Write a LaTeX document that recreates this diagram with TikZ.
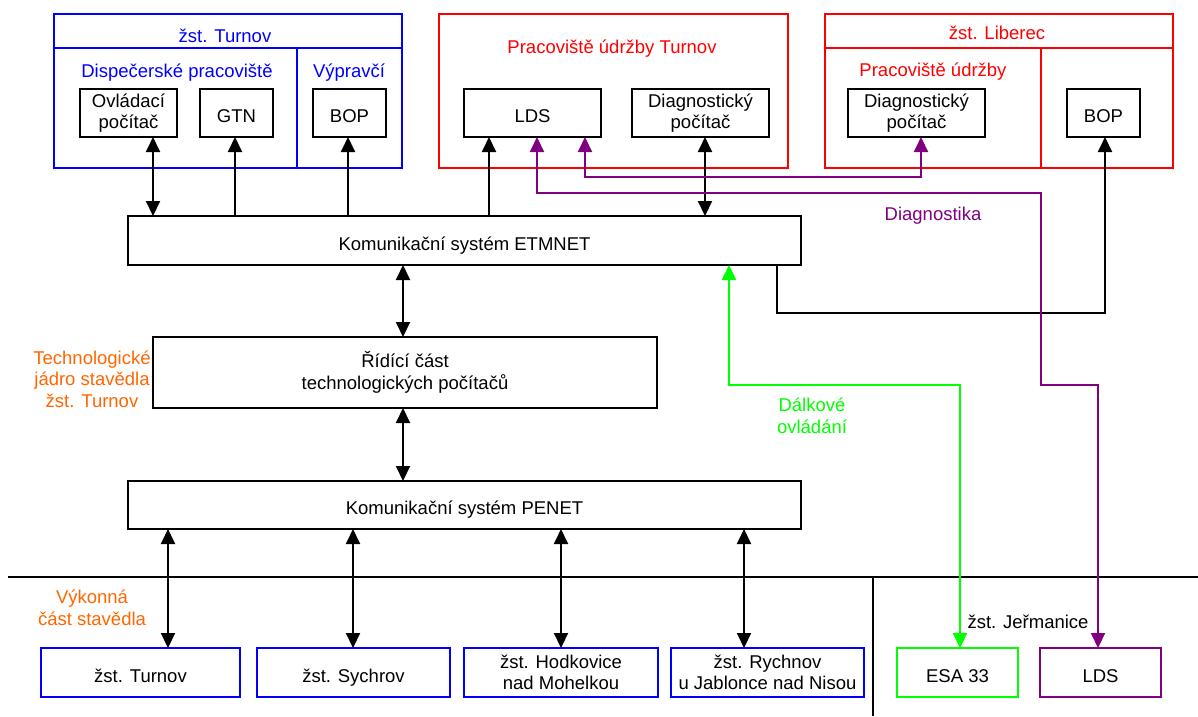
\documentclass[tikz,border=0pt]{standalone}
\usepackage{fontspec}
\setmainfont{Liberation Sans}
\usetikzlibrary{arrows.meta}
\definecolor{cblue}{RGB}{0,0,255}
\definecolor{cred}{RGB}{255,0,0}
\definecolor{cpurple}{RGB}{128,0,128}
\definecolor{cgreen}{RGB}{0,255,0}
\definecolor{corange}{RGB}{255,102,0}

\begin{document}
\begin{tikzpicture}[x=1pt,y=-1pt,
  font=\fontsize{18.5}{21.5}\selectfont,
  box/.style={draw=black, line width=2pt, inner sep=0pt, outer sep=0pt, align=center},
  one/.style={text height=19pt, text depth=0pt},
  frame/.style={draw, line width=2pt, inner sep=0pt, outer sep=0pt},
  sep/.style={line width=2pt},
  title/.style={anchor=base, inner sep=0pt, align=center},
  link/.style={line width=2pt, -{Triangle[width=14pt,length=15pt]}},
  dlink/.style={line width=2pt, {Triangle[width=14pt,length=15pt]}-{Triangle[width=14pt,length=15pt]}}
]
\useasboundingbox (0,0) rectangle (1198,716);

% ---------- upper frames ----------
\node[frame, draw=cblue, minimum width=348pt, minimum height=154pt] (fTur) at (228,91) {};
\draw[sep, cblue] ([yshift=-34pt]fTur.north west) -- ([yshift=-34pt]fTur.north east);
\draw[sep, cblue] ([xshift=243pt,yshift=-34pt]fTur.north west) -- ([xshift=243pt]fTur.south west);

\node[frame, draw=cred, minimum width=349pt, minimum height=154pt] (fUdr) at (613.5,91) {};

\node[frame, draw=cred, minimum width=348pt, minimum height=154pt] (fLib) at (999,91) {};
\draw[sep, cred] ([yshift=-34pt]fLib.north west) -- ([yshift=-34pt]fLib.north east);
\draw[sep, cred] ([xshift=216pt,yshift=-34pt]fLib.north west) -- ([xshift=216pt]fLib.south west);

\node[title, text=cblue] (tTur) at (225,42) {žst. Turnov};
\node[title, text=cblue] (tDisp) at (177,77) {Dispečerské pracoviště};
\node[title, text=cblue] (tVyp) at (349,77) {Výpravčí};
\node[title, text=cred] (tUdr) at (612,53) {Pracoviště údržby Turnov};
\node[title, text=cred] (tLib) at (997,39) {žst. Liberec};
\node[title, text=cred] (tUdrL) at (933,76) {Pracoviště údržby};

% ---------- devices in the frames ----------
\node[box, minimum width=97pt, minimum height=48pt] (ovl) at (128.5,113) {Ovládací\\počítač};
\node[box, one, minimum width=73pt, minimum height=48pt] (gtn) at (236.5,113) {GTN};
\node[box, one, minimum width=73pt, minimum height=48pt] (bopT) at (349.5,113) {BOP};
\node[box, one, minimum width=137pt, minimum height=48pt] (ldsT) at (532.5,113) {LDS};
\node[box, minimum width=137pt, minimum height=48pt] (diagT) at (700.5,113) {Diagnostický\\počítač};
\node[box, minimum width=137pt, minimum height=48pt] (diagL) at (916.5,113) {Diagnostický\\počítač};
\node[box, one, minimum width=73pt, minimum height=48pt] (bopL) at (1103.5,113) {BOP};

% ---------- central systems ----------
\node[box, one, minimum width=673pt, minimum height=49pt] (etm) at (464.5,240.5) {Komunikační systém ETMNET};
\node[box, minimum width=504pt, minimum height=71pt] (rid) at (405,372.5) {Řídící část\\technologických počítačů};
\node[box, one, minimum width=673pt, minimum height=48pt] (pen) at (464.5,505) {Komunikační systém PENET};

% multi-line labels are placed by the baseline of their last line
\node[title, text=corange] (tJadro) at (92,407) {Technologické\\jádro stavědla\\žst. Turnov};

% ---------- stations ----------
\node[box, one, draw=cblue, minimum width=199pt, minimum height=49pt] (sTur) at (140.5,672.5) {žst. Turnov};
\node[box, one, draw=cblue, minimum width=193pt, minimum height=49pt] (sSych) at (353.5,672.5) {žst. Sychrov};
\node[box, draw=cblue, minimum width=194pt, minimum height=49pt] (sHodk) at (561,672.5) {žst. Hodkovice\\nad Mohelkou};
\node[box, draw=cblue, minimum width=193pt, minimum height=49pt] (sRych) at (767.5,672.5) {žst. Rychnov\\u Jablonce nad Nisou};
\node[box, one, draw=cgreen, minimum width=121pt, minimum height=49pt] (esa) at (957.5,672.5) {ESA 33};
\node[box, one, draw=cpurple, minimum width=121pt, minimum height=49pt] (ldsJ) at (1100.5,672.5) {LDS};

\node[title, text=corange] (tVyk) at (92,625) {Výkonná\\část stavědla};
\node[title] (tJer) at (1028,628) {žst. Jeřmanice};

% boundary lines of the station area
\draw[sep] (8,577) -- (1198,577);
\draw[sep] (873,577) -- (873,716);

% ---------- connection points ----------
\path ([xshift=24.5pt]ovl.south) coordinate (pOvl)
      ([xshift=-1.5pt]gtn.south) coordinate (pGtn)
      ([xshift=-1.5pt]bopT.south) coordinate (pBopT)
      ([xshift=-43.5pt]ldsT.south) coordinate (pLdsT)
      ([xshift=4.5pt]ldsT.south) coordinate (pLdsA)
      ([xshift=52.5pt]ldsT.south) coordinate (pLdsB)
      ([xshift=4.5pt]diagT.south) coordinate (pDiagT)
      ([xshift=4.5pt]diagL.south) coordinate (pDiagL)
      ([xshift=1.5pt]bopL.south) coordinate (pBopL)
      ([xshift=-2pt]rid.north) coordinate (pRidN)
      ([xshift=-2pt]rid.south) coordinate (pRidS)
      ([xshift=312.5pt]etm.south) coordinate (pEtmR)
      ([xshift=264.5pt]etm.south) coordinate (pEtmG)
      ([xshift=27.5pt]sTur.north) coordinate (pTur)
      ([xshift=-0.5pt]sSych.north) coordinate (pSych)
      (sHodk.north) coordinate (pHodk)
      ([xshift=-23.5pt]sRych.north) coordinate (pRych)
      ([xshift=2.5pt]esa.north) coordinate (pEsa)
      ([xshift=-2.5pt]ldsJ.north) coordinate (pLdsJ);

% ---------- ETMNET links ----------
\draw[dlink] (pOvl) -- (pOvl |- etm.north);
\draw[link] (pGtn |- etm.north) -- (pGtn);
\draw[link] (pBopT |- etm.north) -- (pBopT);
\draw[link] (pLdsT |- etm.north) -- (pLdsT);
\draw[dlink] (pDiagT) -- (pDiagT |- etm.north);
\draw[link] (pEtmR) -- ++(0,48) -| (pBopL);

% ---------- core links ----------
\draw[dlink] (pRidN |- etm.south) -- (pRidN);
\draw[dlink] (pRidS) -- (pRidS |- pen.north);

% ---------- PENET links ----------
\draw[dlink] (pTur |- pen.south) -- (pTur);
\draw[dlink] (pSych |- pen.south) -- (pSych);
\draw[dlink] (pHodk |- pen.south) -- (pHodk);
\draw[dlink] (pRych |- pen.south) -- (pRych);

% ---------- remote control ----------
\draw[dlink, cgreen] (pEtmG) -- ++(0,120) -| (pEsa);
\node[title, text=cgreen] (tDalk) at (812,433) {Dálkové\\ovládání};

% ---------- diagnostics ----------
\draw[dlink, cpurple] (pLdsA) -- ++(0,56) -- ++(504,0) -- ++(0,192) -| (pLdsJ);
\draw[dlink, cpurple] (pLdsB) -- ++(0,40) -| (pDiagL);
\node[title, text=cpurple] (tDiag) at (933,220) {Diagnostika};

\end{tikzpicture}
\end{document}
